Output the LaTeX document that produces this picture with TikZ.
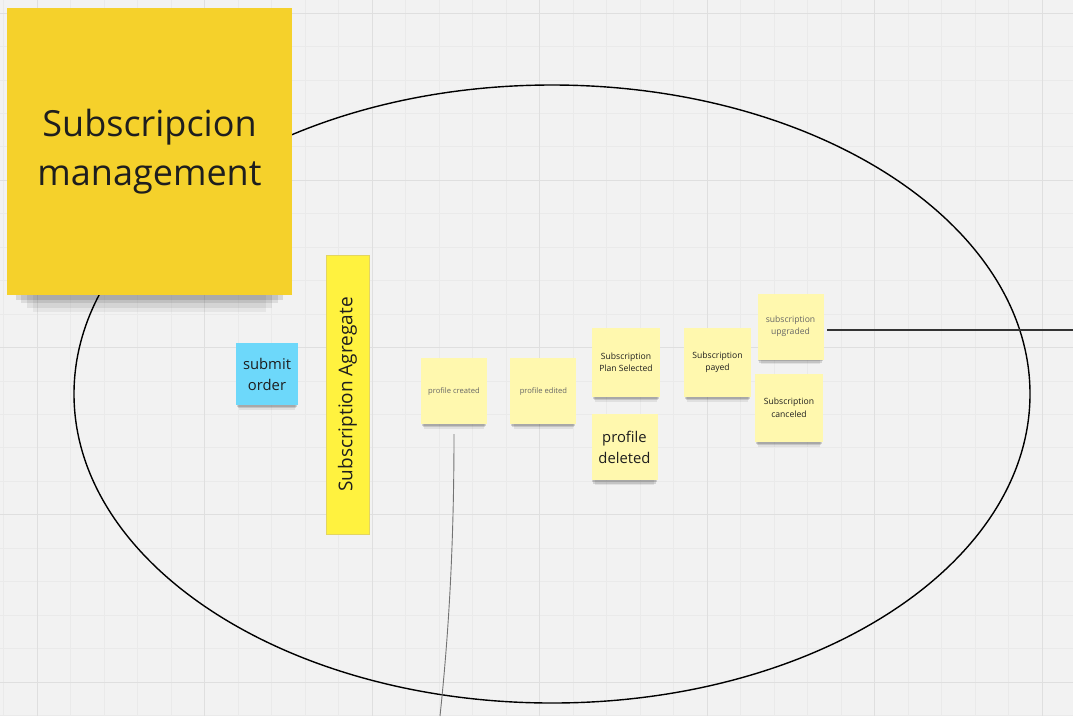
\documentclass[tikz,border=0pt]{standalone}
\usepackage{fontspec}
\setmainfont{Open Sans}
\usetikzlibrary{shapes, positioning, shadows}

\definecolor{boardbg}{HTML}{F2F2F2}
\definecolor{gridminor}{HTML}{EAEAEA}
\definecolor{gridmajor}{HTML}{DFDFDF}
\definecolor{titleyellow}{HTML}{F5D12B}
\definecolor{aggyellow}{HTML}{FFF23F}
\definecolor{aggborder}{HTML}{E3D561}
\definecolor{eventyellow}{HTML}{FFF8AE}
\definecolor{cmdblue}{HTML}{6DD8FA}
\definecolor{inkdark}{HTML}{1E1E1E}
\definecolor{inkgray}{HTML}{666666}

\begin{document}
\begin{tikzpicture} [
    x=1pt, y=-1pt,
    contextnote/.style={rectangle, fill=titleyellow, minimum width=285pt, minimum height=287pt, inner sep=0pt, align=center, text=inkdark, font=\fontsize{36}{49}\selectfont,
        drop shadow={shadow xshift=0pt, shadow yshift=-52pt, shadow scale=0.82, fill=black, opacity=0.05},
        drop shadow={shadow xshift=0pt, shadow yshift=-38pt, shadow scale=0.86, fill=black, opacity=0.07},
        drop shadow={shadow xshift=0pt, shadow yshift=-25pt, shadow scale=0.9, fill=black, opacity=0.09},
        drop shadow={shadow xshift=0pt, shadow yshift=-14pt, shadow scale=0.94, fill=black, opacity=0.11}},
    event/.style={rectangle, fill=eventyellow, minimum width=66pt, minimum height=66pt, inner sep=0pt, align=center, text=inkdark, font=\fontsize{8.6}{12.3}\selectfont,
        drop shadow={shadow xshift=0pt, shadow yshift=-9pt, shadow scale=0.9, fill=black, opacity=0.07},
        drop shadow={shadow xshift=0pt, shadow yshift=-5.5pt, shadow scale=0.94, fill=black, opacity=0.12},
        drop shadow={shadow xshift=0pt, shadow yshift=-3pt, shadow scale=0.97, fill=black, opacity=0.14}},
    faded/.style={text=inkgray},
    bigtext/.style={font=\fontsize{14.8}{20.5}\selectfont},
    command/.style={event, fill=cmdblue, minimum width=62pt, minimum height=62pt, font=\fontsize{14.8}{21}\selectfont},
    aggregate/.style={rectangle, fill=aggyellow, draw=aggborder, line width=0.8pt, minimum width=279pt, minimum height=43pt, inner sep=0pt, text=inkdark, font=\fontsize{19}{22}\selectfont},
    boundary/.style={ellipse, draw=black, line width=1.4pt, minimum width=956pt, minimum height=618pt},
    link/.style={draw=black!80, line width=1.4pt},
    thread/.style={draw=black!55, line width=0.9pt}
]

% Board and grid
\fill[boardbg] (0,0) rectangle (1073,716);
\useasboundingbox (0,0) rectangle (1073,716);
\foreach \i in {0,...,31}
    \draw[gridminor, line width=0.8pt] ({3.5+33.5*\i},0) -- ({3.5+33.5*\i},716);
\foreach \j in {0,...,21}
    \draw[gridminor, line width=0.8pt] (0,{13+33.45*\j}) -- (1073,{13+33.45*\j});
\foreach \i in {0,...,6}
    \draw[gridmajor, line width=1pt] ({37+167.5*\i},0) -- ({37+167.5*\i},716);
\foreach \j in {0,...,4}
    \draw[gridmajor, line width=1pt] (0,{13+167.25*\j}) -- (1073,{13+167.25*\j});

% Bounded context
\node[boundary] (context) at (552,394) {};

% Loose ends
\coordinate (exitright) at (1073,330);
\coordinate (exitdown) at (440,716);

% Stickies
\node[contextnote] (title) at (149.5,151.5) {Subscripcion\\management};
\node[command] (submit) at (267,374) {submit\\order};
\node[aggregate, rotate=90] (agg) at (347.5,394.5) {Subscription Agregate};
\node[event, faded, font=\fontsize{7.6}{10}\selectfont] (pcreated) at (454,391) {profile created};
\node[event, faded, font=\fontsize{7.6}{10}\selectfont, right=23pt of pcreated] (pedited) {profile edited};
\node[event, minimum width=68pt, minimum height=69pt] (planselected) at (626,362.5) {Subscription\\Plan Selected};
\node[event, bigtext, below=17pt of planselected, xshift=-1.5pt] (pdeleted) {profile\\deleted};
\node[event, minimum width=67pt, minimum height=69pt] (payed) at (717.5,362.5) {Subscription\\payed};
\node[event, faded] (upgraded) at (790.5,326.5) {subscription\\upgraded};
\node[event, minimum width=68pt, minimum height=68pt, below=14pt of upgraded, xshift=-1.5pt] (canceled) {Subscription\\canceled};

% Connectors
\draw[link, shorten <=3.5pt] (upgraded.east |- exitright) -- (exitright);
\draw[thread] ([yshift=-10pt]pcreated.south) .. controls (454,560) and (447,650) .. (exitdown);

\end{tikzpicture}
\end{document}
